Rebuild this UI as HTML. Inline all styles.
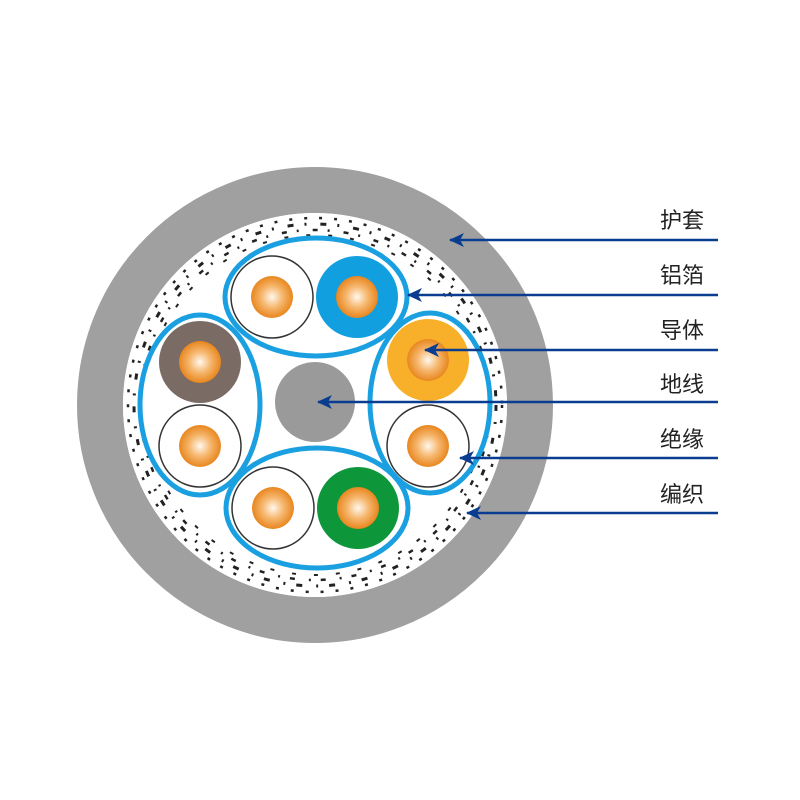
<!DOCTYPE html>
<html><head><meta charset="utf-8"><style>body{margin:0;background:#fff}svg{display:block}text{font-family:"Liberation Sans","Noto Sans CJK SC",sans-serif;font-size:22px;fill:#222}</style></head><body>
<svg width="800" height="800" viewBox="0 0 800 800">
<defs>
<radialGradient id="cu" cx="50%" cy="50%" r="50%"><stop offset="0" stop-color="#fff8ee"/><stop offset="0.5" stop-color="#f6b870"/><stop offset="1" stop-color="#e8861e"/></radialGradient>
<marker id="ar" markerWidth="16" markerHeight="14" refX="14" refY="7" orient="auto" markerUnits="userSpaceOnUse"><path d="M15,7 L0,0 L4,7 L0,14Z" fill="#0a3d8f"/></marker>
</defs>
<circle cx="315" cy="405" r="215" fill="none" stroke="#a0a0a0" stroke-width="46"/>
<circle cx="315" cy="405" r="192" fill="#fff"/>
<g fill="none" stroke="#222">
<circle cx="315" cy="405" r="187" stroke-width="2.5" stroke-dasharray="3 12"/>
<circle cx="315" cy="405" r="181" stroke-width="3" stroke-dasharray="6 11 2 14"/>
<circle cx="315" cy="405" r="175" stroke-width="2.5" stroke-dasharray="2 14 5 10"/>
<circle cx="315" cy="405" r="170" stroke-width="2" stroke-dasharray="4 18"/>
</g>
<g fill="#fff" stroke="#1aa0e0" stroke-width="5">
<ellipse cx="316" cy="297" rx="91" ry="59"/>
<ellipse cx="317" cy="508" rx="91" ry="60"/>
<ellipse cx="200" cy="405" rx="60" ry="90"/>
<ellipse cx="430" cy="403" rx="60" ry="90"/>
</g>
<circle cx="315" cy="402" r="40" fill="#9a9a9a"/>
<g stroke="#333" stroke-width="1.5" fill="#fff">
<circle cx="272" cy="297" r="41"/>
<circle cx="273" cy="508" r="41"/>
<circle cx="200" cy="446" r="41"/>
<circle cx="428" cy="446" r="41"/>
</g>
<circle cx="357" cy="297" r="41" fill="#119fdf"/>
<circle cx="358" cy="508" r="41" fill="#0e973a"/>
<circle cx="200" cy="362" r="41" fill="#7a6b64"/>
<circle cx="428" cy="360" r="41" fill="#f8b02a"/>
<g fill="url(#cu)">
<circle cx="272" cy="297" r="21"/><circle cx="357" cy="297" r="21"/>
<circle cx="273" cy="508" r="21"/><circle cx="358" cy="508" r="21"/>
<circle cx="200" cy="362" r="21"/><circle cx="200" cy="446" r="21"/>
<circle cx="428" cy="360" r="21"/><circle cx="428" cy="446" r="21"/>
</g>
<g stroke="#0a3d8f" stroke-width="2.5" marker-end="url(#ar)">
<line x1="718" y1="240" x2="450" y2="240"/>
<line x1="718" y1="295" x2="408" y2="295"/>
<line x1="718" y1="350" x2="425" y2="350"/>
<line x1="718" y1="402" x2="318" y2="402"/>
<line x1="718" y1="458" x2="460" y2="458"/>
<line x1="718" y1="513" x2="467" y2="513"/>
</g>
<text x="660" y="228">护套</text>
<text x="660" y="283">铝箔</text>
<text x="660" y="338">导体</text>
<text x="660" y="392">地线</text>
<text x="660" y="447">绝缘</text>
<text x="660" y="502">编织</text>
</svg>
</body></html>
